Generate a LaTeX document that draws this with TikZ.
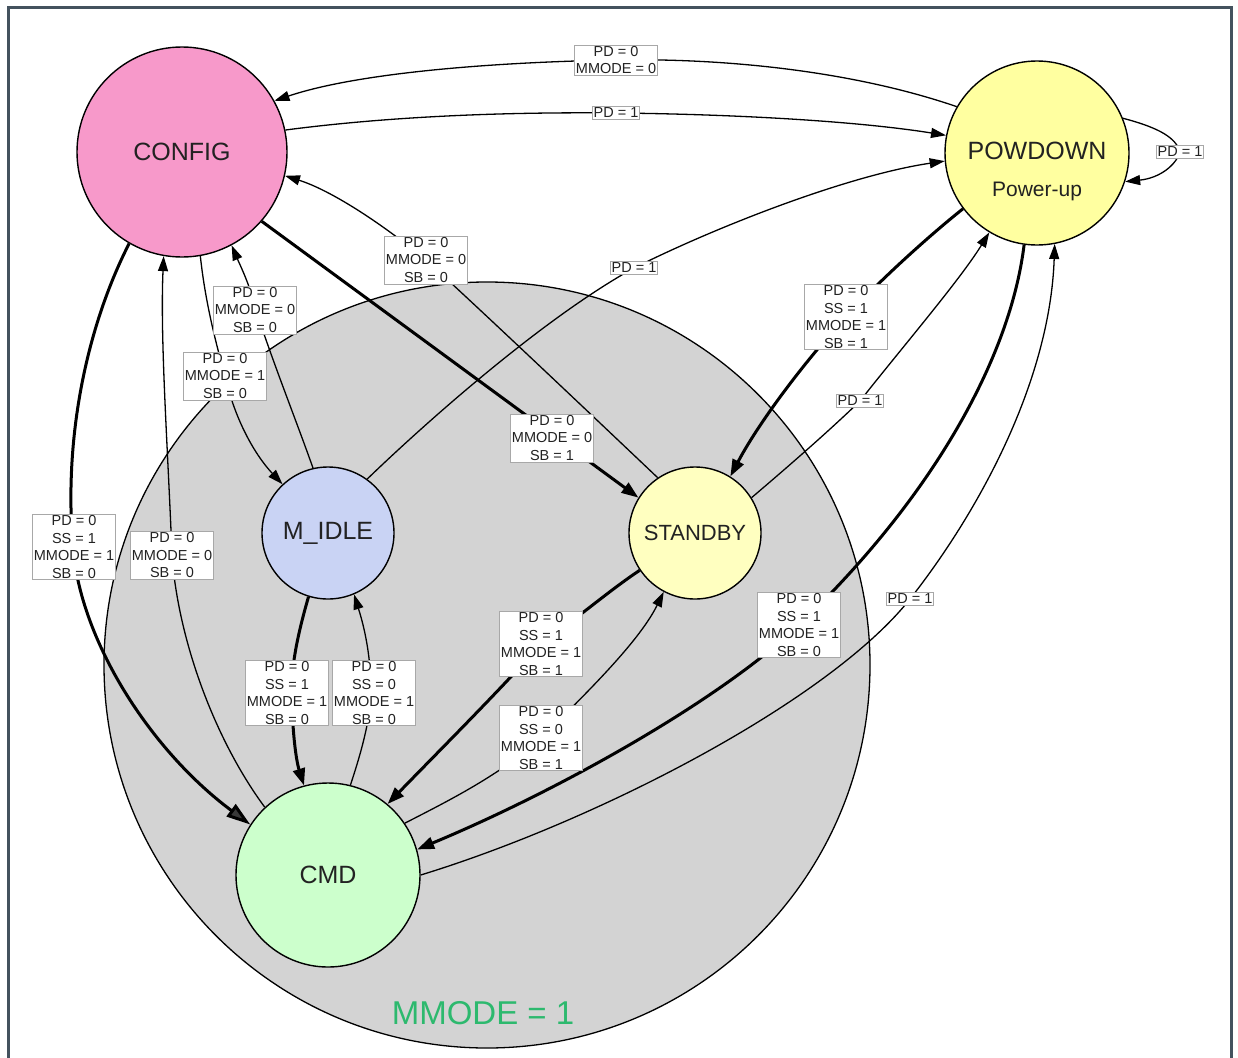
\documentclass[tikz,border=0pt]{standalone}
\usepackage{fontspec}
\setmainfont{Liberation Sans}
\usetikzlibrary{arrows.meta}
\definecolor{framec}{HTML}{44525E}
\definecolor{cfgc}{HTML}{F799CA}
\definecolor{pdc}{HTML}{FFFFA0}
\definecolor{sbc}{HTML}{FFFFC0}
\definecolor{idc}{HTML}{C9D3F4}
\definecolor{cmdc}{HTML}{CCFFCC}
\definecolor{clc}{HTML}{D3D3D3}
\definecolor{grn}{RGB}{45,185,110}
\definecolor{lblb}{HTML}{A8A8A8}
\definecolor{txt}{HTML}{222222}
\begin{document}
\begin{tikzpicture}[x=1pt,y=-1pt,
 state/.style={circle,draw=black,line width=1.4pt,inner sep=0pt,text=txt,font=\fontsize{25}{30}\selectfont},
 lbl/.style={draw=lblb,fill=white,line width=0.7pt,inner sep=1.2pt,align=center,text=txt,font=\fontsize{14.5}{17.6}\selectfont},
 thinedge/.style={line width=1.3pt,-{Triangle[length=15pt,width=10pt]}},
 thickedge/.style={line width=3pt,-{Triangle[length=17pt,width=12pt]}},
]
\useasboundingbox (0,0) rectangle (1238,1057);
\fill[white] (0,0) rectangle (1238,1057);
\draw[framec,line width=3pt] (8,1060) -- (8,7.5) -- (1231,7.5) -- (1231,1060);

% cluster
\fill[clc] (487,665) circle[radius=383pt];
\draw[black,line width=1.3pt] (487,665) circle[radius=383pt];
\node[text=grn,font=\fontsize{33}{36}\selectfont] (mm) at (483,1013) {MMODE = 1};

% states
\node[state,fill=cfgc,minimum size=210pt] (config) at (182,152) {CONFIG};
\node[state,fill=pdc,minimum size=184pt] (pd) at (1037,153) {};
\node[text=txt,font=\fontsize{25}{30}\selectfont] (pdt1) at (1037,151) {POWDOWN};
\node[text=txt,font=\fontsize{21}{25}\selectfont] (pdt2) at (1037,191) {Power-up};
\node[state,fill=idc,minimum size=132pt] (midle) at (328,533) {M\_IDLE};
\node[state,fill=sbc,minimum size=132pt,font=\fontsize{22}{26}\selectfont] (standby) at (695,533) {STANDBY};
\node[state,fill=cmdc,minimum size=184pt] (cmd) at (328,875) {CMD};

% label positions
\coordinate (l1) at (616,60);
\coordinate (l2) at (616,113);
\coordinate (l3) at (1180,152);
\coordinate (l4) at (426,260);
\coordinate (l5) at (634,268);
\coordinate (l6) at (552,438);
\coordinate (l7) at (256,310);
\coordinate (l8) at (225,376);
\coordinate (l9) at (73,547);
\coordinate (l10) at (172,555);
\coordinate (l11) at (846,317);
\coordinate (l12) at (860,401);
\coordinate (l13) at (799,625);
\coordinate (l14) at (910,599);
\coordinate (l15) at (292,693);
\coordinate (l16) at (371,693);
\coordinate (l17) at (541,644);
\coordinate (l18) at (541,738);

% edges
\draw[thinedge] (pd.150) .. controls (850,70) and (720,58) .. (l1) .. controls (500,62) and (360,72) .. (config.29);
\draw[thinedge] (config.12) .. controls (400,115) and (520,112) .. (l2) .. controls (720,114) and (850,120) .. (pd.169);
\draw[thinedge] (pd.22) .. controls (1160,128) and (1176,138) .. (l3) .. controls (1176,165) and (1160,178) .. (pd.-18);
\draw[thinedge] (standby.124) .. controls (560,385) and (470,300) .. (l4) .. controls (380,222) and (330,190) .. (config.-13);
\draw[thinedge] (midle.54) .. controls (420,428) and (540,320) .. (l5) .. controls (720,225) and (850,175) .. (pd.-175);
\draw[thickedge] (config.-41) -- (standby.148);
\draw[thinedge] (midle.103) .. controls (296,420) and (272,360) .. (l7) .. controls (250,285) and (240,265) .. (config.-62);
\draw[thinedge] (config.-80) .. controls (205,300) and (215,340) .. (l8) .. controls (235,420) and (255,455) .. (midle.133);
\draw[line width=3pt,-{Triangle[length=24pt,width=15pt,fill=black!78]}] (config.-120) .. controls (90,320) and (63,430) .. (l9) .. controls (80,640) and (150,750) .. (cmd.147);
\draw[thinedge] (cmd.133) .. controls (215,740) and (178,640) .. (l10) .. controls (168,450) and (160,340) .. (config.-100);
\draw[thickedge] (pd.-143) .. controls (930,235) and (880,280) .. (l11) .. controls (810,355) and (760,420) .. (standby.58);
\draw[thinedge] (standby.32) .. controls (790,465) and (830,430) .. (l12) .. controls (900,350) and (960,280) .. (pd.-121);
\draw[thickedge] (pd.-98) .. controls (1010,360) and (930,500) .. (l13) .. controls (720,700) and (560,790) .. (cmd.16);
\draw[thinedge] (cmd.0) .. controls (600,820) and (830,700) .. (l14) .. controls (980,510) and (1050,380) .. (pd.-79);
\draw[thickedge] (midle.-107) .. controls (296,640) and (291,670) .. (l15) .. controls (292,730) and (296,760) .. (cmd.105);
\draw[thinedge] (cmd.76) .. controls (362,750) and (370,720) .. (l16) .. controls (371,650) and (362,620) .. (midle.-67);
\draw[thickedge] (standby.-146) .. controls (610,590) and (575,620) .. (l17) .. controls (500,690) and (440,750) .. (cmd.50);
\draw[thinedge] (cmd.34) .. controls (450,800) and (500,775) .. (l18) .. controls (590,690) and (640,640) .. (standby.-118);

% labels
\node[lbl] (t1) at (l1) {PD = 0\\MMODE = 0};
\node[lbl] (t2) at (l2) {PD = 1};
\node[lbl] (t3) at (l3) {PD = 1};
\node[lbl] (t4) at (l4) {PD = 0\\MMODE = 0\\SB = 0};
\node[lbl] (t5) at (l5) {PD = 1};
\node[lbl] (t6) at (l6) {PD = 0\\MMODE = 0\\SB = 1};
\node[lbl] (t7) at (255,310) {PD = 0\\MMODE = 0\\SB = 0};
\node[lbl] (t8) at (l8) {PD = 0\\MMODE = 1\\SB = 0};
\node[lbl] (t9) at (74,547) {PD = 0\\SS = 1\\MMODE = 1\\SB = 0};
\node[lbl] (t10) at (l10) {PD = 0\\MMODE = 0\\SB = 0};
\node[lbl] (t11) at (l11) {PD = 0\\SS = 1\\MMODE = 1\\SB = 1};
\node[lbl] (t12) at (l12) {PD = 1};
\node[lbl] (t13) at (l13) {PD = 0\\SS = 1\\MMODE = 1\\SB = 0};
\node[lbl] (t14) at (l14) {PD = 1};
\node[lbl] (t15) at (287,693) {PD = 0\\SS = 1\\MMODE = 1\\SB = 0};
\node[lbl] (t16) at (374,693) {PD = 0\\SS = 0\\MMODE = 1\\SB = 0};
\node[lbl] (t17) at (l17) {PD = 0\\SS = 1\\MMODE = 1\\SB = 1};
\node[lbl] (t18) at (l18) {PD = 0\\SS = 0\\MMODE = 1\\SB = 1};
\end{tikzpicture}
\end{document}
